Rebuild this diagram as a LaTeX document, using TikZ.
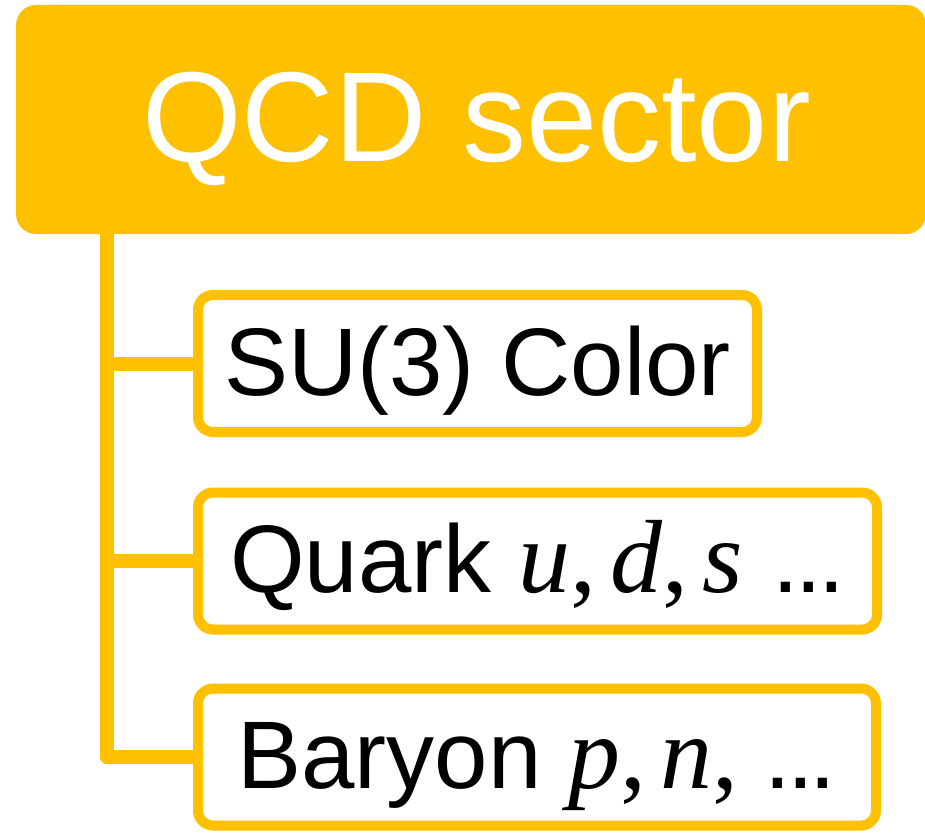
\documentclass[tikz,border=0pt]{standalone}
\usepackage{fontspec}
\setmainfont{Liberation Sans}
\newfontfamily\serifm{Liberation Serif}
\definecolor{gold}{HTML}{FFC000}
\newcommand{\mv}[1]{{\serifm\fontsize{104}{110}\selectfont\itshape #1}}
\newcommand{\mc}{{\serifm\fontsize{104}{110}\selectfont ,}}
\newcommand{\mgap}{\hspace{14pt}}
\newcommand{\tdots}{.\kern-4pt.\kern-4pt.}
\begin{document}
\begin{tikzpicture}[x=1pt,y=-1pt,
  hdr/.style={fill=gold, rounded corners=20pt, minimum width=910pt, minimum height=229pt, inner sep=0pt},
  hdrtext/.style={anchor=base, text=white, font=\fontsize{128}{150}\selectfont, inner sep=0pt},
  itembox/.style={draw=gold, line width=10pt, rounded corners=15pt, fill=white, minimum height=137pt, inner sep=0pt, text height=69pt, text depth=6pt, font=\fontsize{96}{110}\selectfont},
  branch/.style={draw=gold, line width=14pt, line join=round}]
\useasboundingbox (0,0) rectangle (925,832);
\fill[white] (0,0) rectangle (925,832);

\node[hdr] (hdr) at (471,119.5) {};
\node[hdrtext] (hdrlabel) at (476.5,161) {QCD sector};

\node[itembox, minimum width=559pt] (b1) at (477.5,363.5) {SU(3) Color};
\node[itembox, minimum width=679pt] (b2) at (537.5,561) {Quark \mv{u}\mc\mgap\mv{d}\mc\mgap\mv{s}\hspace{30pt}\tdots};
\node[itembox, minimum width=678pt] (b3) at (537,757) {Baryon \mv{p}\mc\mgap\mv{n}\mc\hspace{26pt}\tdots};

\coordinate (trunktop) at (106.5,234);
\draw[branch] (trunktop) |- (b3.west);
\draw[branch] (trunktop |- b1.west) -- (b1.west);
\draw[branch] (trunktop |- b2.west) -- (b2.west);
\end{tikzpicture}
\end{document}
